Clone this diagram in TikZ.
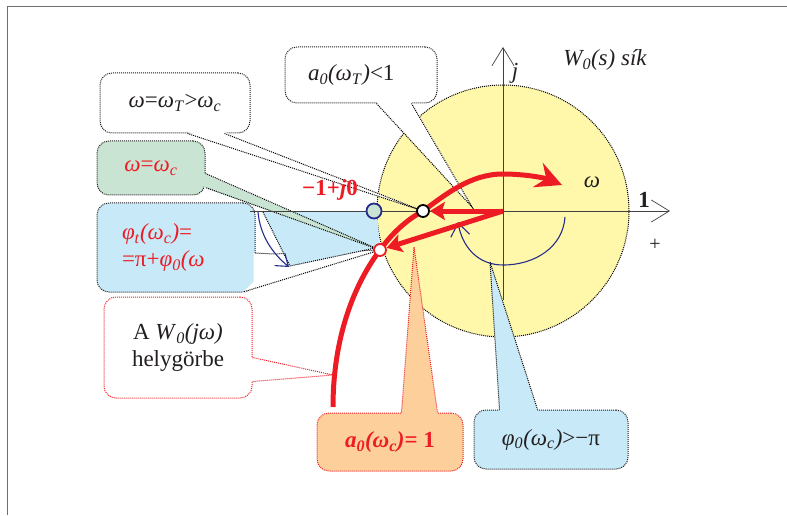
\documentclass[tikz,border=0pt]{standalone}
\usepackage{fontspec}
\setmainfont{Liberation Serif}
\usetikzlibrary{arrows.meta}
\usetikzlibrary{calc}
\usetikzlibrary{positioning}
\definecolor{nyqred}{RGB}{237,28,36}
\definecolor{diskyellow}{RGB}{255,247,170}
\definecolor{boxblue}{RGB}{199,233,248}
\definecolor{boxgreen}{RGB}{201,228,211}
\definecolor{boxorange}{RGB}{253,208,155}
\definecolor{arcblue}{RGB}{38,44,140}
\definecolor{framegray}{RGB}{110,110,110}
\definecolor{txt}{RGB}{35,31,32}

\begin{document}
\begin{tikzpicture}[x=1pt,y=1pt,
  dotline/.style={line width=1pt,dash pattern=on 1pt off 1pt},
  callbox/.style={dotline,draw=txt,rounded corners=12pt,inner sep=0pt,align=center,font=\fontsize{23}{27}\selectfont,text=txt},
  redline/.style={line width=5pt,draw=nyqred},
  axisline/.style={line width=0.7pt,draw=black!75,-{Straight Barb[length=18pt,width=22pt]}},
  ptmark/.style={circle,inner sep=0pt,minimum size=12pt,line width=1.8pt}]
\useasboundingbox (0,0) rectangle (787,515);
\draw[framegray,line width=1pt] (7,0) -- (7,508) -- (787,508);

% disk and points
\coordinate (O) at (503,304);
\coordinate (cT) at (423,304);
\coordinate (cC) at (380,265);
\fill[diskyellow] (O) circle (126);
\draw[dotline] (O) circle (126);

% a0(wT)<1
\node[callbox,fill=white,minimum width=152pt,minimum height=56pt,text width=106pt,inner xsep=23pt,align=left] (amp) at (361,440)
  {\textit{a}\textsubscript{\textit{0}}\textit{(ω}\textsubscript{\textit{T}}\textit{)}<1};
\coordinate (ampT) at (472,308);
\fill[white] ($(amp.south west)+(92,1.5)$) -- (ampT) -- ($(amp.south west)+(127,1.5)$) -- cycle;
\draw[dotline] ($(amp.south west)+(92,0)$) -- (ampT) -- ($(amp.south west)+(127,0)$);

% w=wT>wc
\node[callbox,fill=white,minimum width=150pt,minimum height=60pt] (freqT) at (175,412)
  {\textit{ω}=\textit{ω}\textsubscript{\textit{T}}>\textit{ω}\textsubscript{\textit{c}}};
\fill[white] ($(freqT.south west)+(88,1.5)$) -- (cT) -- ($(freqT.south west)+(125,1.5)$) -- cycle;
\draw[dotline] ($(freqT.south west)+(88,0)$) -- (cT) -- ($(freqT.south west)+(125,0)$);

% phase margin
\node[callbox,fill=boxblue,minimum width=158pt,minimum height=89pt,text width=108pt,inner xsep=25pt,align=left,text=nyqred] (phit) at (176,267.5)
  {\textit{φ}\textsubscript{\textit{t}}\textit{(ω}\textsubscript{\textit{c}}\textit{)}=\\=π+\textit{φ}\textsubscript{\textit{0}}\textit{(ω}};
\fill[white] (253.5,262) -- (273,261) -- (cC) -- (242,222) -- (253.5,233) -- cycle;
\draw[dotline] (phit.east |- 0,262) -- (273,261) -- (cC) -- (243,223);
\fill[boxblue] (263,303) -- (377,303) -- (380,268) -- (290,249) -- cycle;
\draw[dotline] (263,303) -- (290,249) -- (380,268);
\draw[arcblue,line width=1.1pt,-{Straight Barb[length=11pt,width=16pt]}] (258,303) .. controls (260,280) and (272,262) .. (289,248);

% w=wc
\node[callbox,fill=boxgreen,minimum width=108pt,minimum height=54pt,text=nyqred] (freqC) at (151,347)
  {\textit{ω}=\textit{ω}\textsubscript{\textit{c}}};
\fill[boxgreen] ($(freqC.south east)+(-1.5,22)$) -- (cC) -- ($(freqC.south east)+(-1.5,8)$) -- cycle;
\draw[dotline] ($(freqC.south east)+(0,22)$) -- (cC) -- ($(freqC.south east)+(0,8)$);

% locus label
\node[callbox,draw=nyqred,fill=white,minimum width=148pt,minimum height=101pt,font=\fontsize{23}{27}\selectfont] (locus) at (178,167.5)
  {A \textit{W}\textsubscript{\textit{0}}\textit{(jω)}\\helygörbe};
\coordinate (locT) at (333,140);
\fill[white] ($(locus.south east)+(-1.5,41)$) -- (locT) -- ($(locus.south east)+(-1.5,17)$) -- cycle;
\draw[dotline,draw=nyqred] ($(locus.south east)+(0,41)$) -- (locT) -- ($(locus.south east)+(0,17)$);

% a0(wc)=1
\node[callbox,draw=nyqred,fill=boxorange,minimum width=146pt,minimum height=58pt,text=nyqred] (ampC) at (390,73)
  {\textbf{\textit{a}\textsubscript{\textit{0}}\textit{(ω}\textsubscript{\textit{c}}\textit{)}= 1}};
\coordinate (ampCT) at (414,268);
\fill[boxorange] ($(ampC.north west)+(85,-1.5)$) -- (ampCT) -- ($(ampC.north west)+(121,-1.5)$) -- cycle;
\draw[dotline,draw=nyqred] ($(ampC.north west)+(85,0)$) -- (ampCT) -- ($(ampC.north west)+(121,0)$);

% phi0(wc)>-pi
\node[callbox,fill=boxblue,minimum width=154pt,minimum height=59pt] (phase) at (551,75.5)
  {\textit{φ}\textsubscript{\textit{0}}\textit{(ω}\textsubscript{\textit{c}}\textit{)}>−π};
\coordinate (phaseT) at (490,253);
\fill[boxblue] ($(phase.north west)+(26,-1.5)$) -- (phaseT) -- ($(phase.north west)+(64,-1.5)$) -- cycle;
\draw[dotline] ($(phase.north west)+(26,0)$) -- (phaseT) -- ($(phase.north west)+(64,0)$);

% axes
\draw[axisline] (250,304) -- (670,304);
\draw[axisline] (503,215) -- (503,468);

% locus, vectors, angle
\draw[redline,-{Stealth[length=26pt,width=26pt,inset=9pt]}] (333,108) .. controls (333,170) and (350,225) .. (cC)
  .. controls (393,283) and (408,296) .. (cT) .. controls (445,320) and (470,341) .. (503,341)
  .. controls (525,341) and (545,337) .. (562,330);
\draw[arcblue,line width=1.1pt,-{Straight Barb[length=13pt,width=19pt]}] (565,298) .. controls (563,268) and (535,250) .. (503,250)
  .. controls (478,250) and (462,268) .. (458,293);
\node[ptmark,draw=arcblue,fill=boxgreen,minimum size=15pt] (m1) at (374,304) {};
\node[ptmark,draw=black,fill=white] (wT) at (cT) {};
\node[ptmark,draw=nyqred,fill=white] (wc) at (cC) {};
\draw[redline,-{Stealth[length=15pt,width=18pt,inset=3pt]}] (O) -- (wT);
\draw[redline,-{Stealth[length=15pt,width=18pt,inset=3pt]}] (O) -- (wc);

% labels
\node[font=\fontsize{23}{27}\selectfont\bfseries,text=nyqred] (m1lab) at (330,325) {−1+\textit{j}0};
\node[font=\fontsize{23}{27}\selectfont\itshape,text=txt] (plane) at (605,455) {W\textsubscript{0}(s) sík};
\node[font=\fontsize{23}{27}\selectfont\itshape,text=txt] (jlab) at (515,442) {j};
\node[font=\fontsize{23}{27}\selectfont\itshape,text=txt] (wlab) at (592,333) {ω};
\node[font=\fontsize{23}{27}\selectfont\bfseries,text=txt] (onelab) at (644,315) {1};
\node[font=\fontsize{20}{24}\selectfont,text=txt] (pluslab) at (655,270) {+};
\end{tikzpicture}
\end{document}
